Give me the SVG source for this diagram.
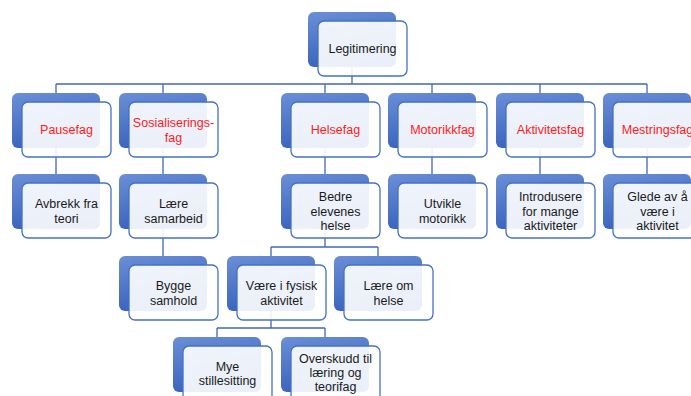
<svg xmlns="http://www.w3.org/2000/svg" width="691" height="396" viewBox="0 0 691 396">
<defs>
<linearGradient id="bg" x1="0" y1="0" x2="0.3" y2="1">
<stop offset="0" stop-color="#6b8fd6"/>
<stop offset="1" stop-color="#3862be"/>
</linearGradient>
<style>
.back{fill:url(#bg);}
.front{fill:#ffffff;fill-opacity:0.9;stroke:#4472c4;stroke-width:1.3;}
.t{font-family:"Liberation Sans",Arial,sans-serif;font-size:12.5px;text-anchor:middle;fill:#1a1a1a;}
.r{fill:#ff1a1a;}
.c{stroke:#4068b8;stroke-width:1.3;fill:none;}
</style>
</defs>
<rect width="691" height="396" fill="#ffffff"/>
<g id="connectors">
<path class="c" d="M352 67V84M56 84H647M56 84V93M163 84V93M325 84V93M432 84V93M540 84V93M647 84V93"/>
<path class="c" d="M56 148V174M163 148V174M325 148V174M432 148V174M540 148V174M647 148V174"/>
<path class="c" d="M163 229V256M325 229V247M271 247H378M271 247V256M378 247V256"/>
<path class="c" d="M271 311V328M217 328H325M217 328V337M325 328V337"/>
</g>
<g id="legitimering"><rect class="back" x="308" y="12" width="88" height="55" rx="6"/><rect class="front" x="318" y="21" width="89" height="55" rx="6"/><text class="t" x="362.5" y="53">Legitimering</text></g>
<g id="pausefag"><rect class="back" x="12" y="93" width="88" height="55" rx="6"/><rect class="front" x="22" y="102" width="89" height="55" rx="6"/><text class="t r" x="66.5" y="134">Pausefag</text></g>
<g id="sosialiseringsfag"><rect class="back" x="119" y="93" width="88" height="55" rx="6"/><rect class="front" x="129" y="102" width="89" height="55" rx="6"/><text class="t r" x="173.5" y="127">Sosialiserings-</text><text class="t r" x="173.5" y="141.6">fag</text></g>
<g id="helsefag"><rect class="back" x="281" y="93" width="88" height="55" rx="6"/><rect class="front" x="291" y="102" width="89" height="55" rx="6"/><text class="t r" x="335.5" y="134">Helsefag</text></g>
<g id="motorikkfag"><rect class="back" x="388" y="93" width="88" height="55" rx="6"/><rect class="front" x="398" y="102" width="89" height="55" rx="6"/><text class="t r" x="442.5" y="134">Motorikkfag</text></g>
<g id="aktivitetsfag"><rect class="back" x="496" y="93" width="88" height="55" rx="6"/><rect class="front" x="506" y="102" width="89" height="55" rx="6"/><text class="t r" x="550.5" y="134">Aktivitetsfag</text></g>
<g id="mestringsfag"><rect class="back" x="603" y="93" width="88" height="55" rx="6"/><rect class="front" x="613" y="102" width="89" height="55" rx="6"/><text class="t r" x="657.5" y="134">Mestringsfag</text></g>
<g id="avbrekk"><rect class="back" x="12" y="174" width="88" height="55" rx="6"/><rect class="front" x="22" y="183" width="89" height="55" rx="6"/><text class="t" x="66.5" y="208">Avbrekk fra</text><text class="t" x="66.5" y="222.6">teori</text></g>
<g id="laere-samarbeid"><rect class="back" x="119" y="174" width="88" height="55" rx="6"/><rect class="front" x="129" y="183" width="89" height="55" rx="6"/><text class="t" x="173.5" y="208">Lære</text><text class="t" x="173.5" y="222.6">samarbeid</text></g>
<g id="bedre-helse"><rect class="back" x="281" y="174" width="88" height="55" rx="6"/><rect class="front" x="291" y="183" width="89" height="55" rx="6"/><text class="t" x="335.5" y="200.8">Bedre</text><text class="t" x="335.5" y="215.5">elevenes</text><text class="t" x="335.5" y="230.2">helse</text></g>
<g id="utvikle"><rect class="back" x="388" y="174" width="88" height="55" rx="6"/><rect class="front" x="398" y="183" width="89" height="55" rx="6"/><text class="t" x="442.5" y="208">Utvikle</text><text class="t" x="442.5" y="222.6">motorikk</text></g>
<g id="introdusere"><rect class="back" x="496" y="174" width="88" height="55" rx="6"/><rect class="front" x="506" y="183" width="89" height="55" rx="6"/><text class="t" x="550.5" y="200.8">Introdusere</text><text class="t" x="550.5" y="215.5">for mange</text><text class="t" x="550.5" y="230.2">aktiviteter</text></g>
<g id="glede"><rect class="back" x="603" y="174" width="88" height="55" rx="6"/><rect class="front" x="613" y="183" width="89" height="55" rx="6"/><text class="t" x="657.5" y="200.8">Glede av å</text><text class="t" x="657.5" y="215.5">være i</text><text class="t" x="657.5" y="230.2">aktivitet</text></g>
<g id="bygge-samhold"><rect class="back" x="119" y="256" width="88" height="55" rx="6"/><rect class="front" x="129" y="265" width="89" height="55" rx="6"/><text class="t" x="173.5" y="290">Bygge</text><text class="t" x="173.5" y="304.6">samhold</text></g>
<g id="fysisk-aktivitet"><rect class="back" x="227" y="256" width="88" height="55" rx="6"/><rect class="front" x="237" y="265" width="89" height="55" rx="6"/><text class="t" x="281.5" y="290">Være i fysisk</text><text class="t" x="281.5" y="304.6">aktivitet</text></g>
<g id="laere-om-helse"><rect class="back" x="334" y="256" width="88" height="55" rx="6"/><rect class="front" x="344" y="265" width="89" height="55" rx="6"/><text class="t" x="388.5" y="290">Lære om</text><text class="t" x="388.5" y="304.6">helse</text></g>
<g id="stillesitting"><rect class="back" x="173" y="337" width="88" height="55" rx="6"/><rect class="front" x="183" y="346" width="89" height="55" rx="6"/><text class="t" x="227.5" y="370.5">Mye</text><text class="t" x="227.5" y="385">stillesitting</text></g>
<g id="overskudd"><rect class="back" x="281" y="337" width="88" height="55" rx="6"/><rect class="front" x="291" y="346" width="89" height="55" rx="6"/><text class="t" x="335.5" y="362.8">Overskudd til</text><text class="t" x="335.5" y="377">læring og</text><text class="t" x="335.5" y="391.2">teorifag</text></g>
</svg>
